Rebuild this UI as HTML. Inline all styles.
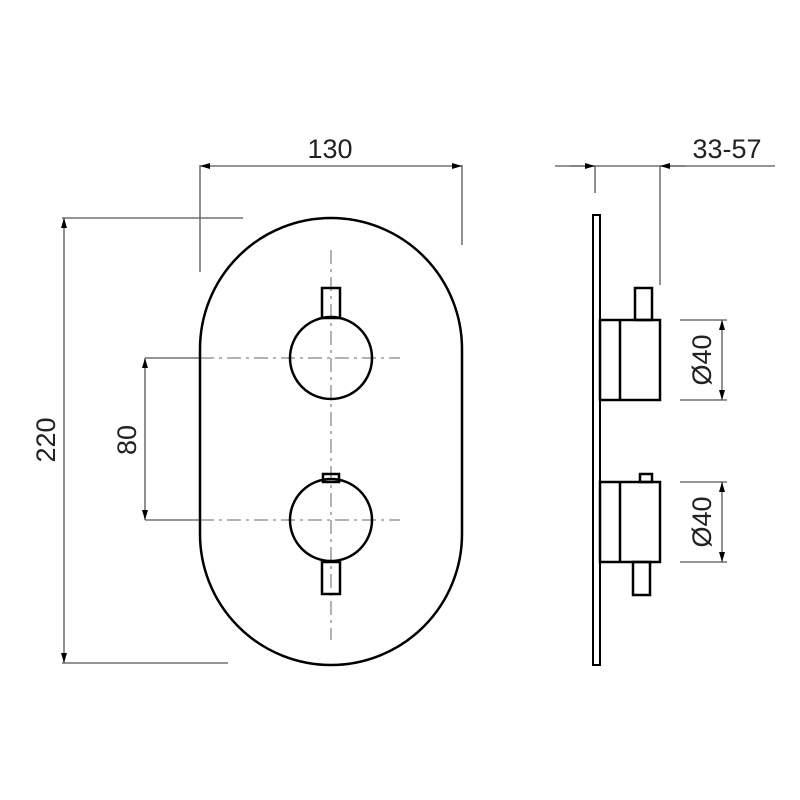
<!DOCTYPE html>
<html><head><style>body{margin:0;background:#fff}svg{display:block}</style></head>
<body>
<svg width="800" height="800" viewBox="0 0 800 800" xmlns="http://www.w3.org/2000/svg">
<defs>
<marker id="a" viewBox="0 0 10 6" refX="10" refY="3" markerWidth="14" markerHeight="6" markerUnits="userSpaceOnUse" orient="auto-start-reverse"><path d="M0,0L10,3L0,6Z" fill="#000"/></marker>
</defs>
<g stroke="#555" stroke-width="1.3" fill="none">
<!-- 130 -->
<line x1="200" y1="166" x2="462" y2="166" marker-start="url(#a)" marker-end="url(#a)"/>
<line x1="200" y1="165" x2="200" y2="272"/>
<line x1="462" y1="165" x2="462" y2="245"/>
<!-- 220 -->
<line x1="62" y1="218" x2="243" y2="218"/>
<line x1="62" y1="663" x2="228" y2="663"/>
<line x1="64" y1="218" x2="64" y2="663" marker-start="url(#a)" marker-end="url(#a)"/>
<!-- 80 -->
<line x1="145" y1="358" x2="145" y2="520" marker-start="url(#a)" marker-end="url(#a)"/>
<line x1="145" y1="358" x2="200" y2="358"/>
<line x1="145" y1="520" x2="200" y2="520"/>
<!-- 33-57 -->
<line x1="555" y1="166" x2="775" y2="166"/>
<line x1="570" y1="166" x2="595" y2="166" marker-end="url(#a)"/>
<line x1="685" y1="166" x2="660" y2="166" marker-end="url(#a)"/>
<line x1="595" y1="166" x2="595" y2="193"/>
<line x1="660" y1="166" x2="660" y2="285"/>
<!-- Ø40 -->
<line x1="680" y1="320" x2="727" y2="320"/>
<line x1="680" y1="400" x2="727" y2="400"/>
<line x1="722" y1="320" x2="722" y2="400" marker-start="url(#a)" marker-end="url(#a)"/>
<line x1="680" y1="482" x2="727" y2="482"/>
<line x1="680" y1="562" x2="727" y2="562"/>
<line x1="722" y1="482" x2="722" y2="562" marker-start="url(#a)" marker-end="url(#a)"/>
</g>
<g stroke="#999" stroke-width="1.5" fill="none" stroke-dasharray="14,5,3,5">
<line x1="200" y1="358" x2="400" y2="358"/>
<line x1="200" y1="520" x2="400" y2="520"/>
<line x1="331" y1="250" x2="331" y2="640"/>
</g>
<g stroke="#000" stroke-width="2.5" fill="none">
<rect x="200" y="218" width="262" height="447" rx="131" ry="131"/>
<circle cx="331" cy="358" r="41"/>
<circle cx="331" cy="520" r="41"/>
<rect x="322" y="288" width="18" height="30"/>
<rect x="323" y="474" width="16" height="8"/>
<rect x="322" y="562" width="18" height="32"/>
<!-- side view -->
<rect x="593" y="215" width="7" height="450" stroke-width="2"/>
<rect x="600" y="320" width="60" height="80"/>
<line x1="620" y1="320" x2="620" y2="400"/>
<rect x="635" y="288" width="17" height="32"/>
<rect x="600" y="482" width="60" height="80"/>
<line x1="620" y1="482" x2="620" y2="562"/>
<rect x="640" y="474" width="12" height="8"/>
<rect x="633" y="562" width="17" height="33"/>
</g>
<g font-family="'Liberation Sans',sans-serif" font-size="27" fill="#222">
<text x="330" y="158" text-anchor="middle">130</text>
<text x="727" y="158" text-anchor="middle">33-57</text>
<text transform="translate(55,440) rotate(-90)" text-anchor="middle">220</text>
<text transform="translate(136,440) rotate(-90)" text-anchor="middle">80</text>
<text transform="translate(711,360) rotate(-90)" text-anchor="middle">Ø40</text>
<text transform="translate(711,522) rotate(-90)" text-anchor="middle">Ø40</text>
</g>
</svg>
</body></html>
